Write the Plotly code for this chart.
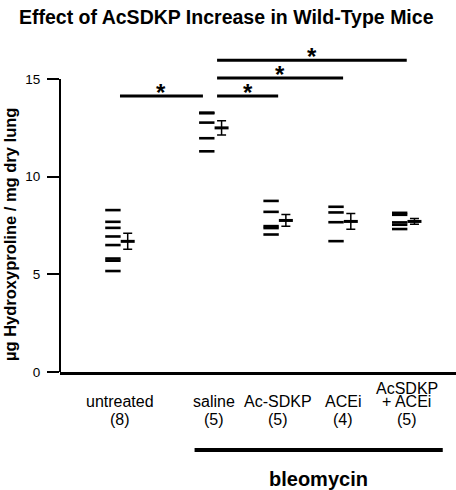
import plotly.graph_objects as go

# ---- data ----
groups = ["untreated", "saline", "Ac-SDKP", "ACEi", "AcSDKP<br>+ ACEi"]
counts = ["(8)", "(5)", "(5)", "(4)", "(5)"]
untreated_vals = [8.29, 7.69, 7.38, 6.94, 6.50, 5.81, 5.70, 5.17]
saline_vals = [13.28, 13.25, 12.77, 11.97, 11.30]
acsdkp_vals = [8.76, 8.20, 7.47, 7.37, 7.04]
acei_vals = [8.46, 8.17, 7.67, 6.70]
combo_vals = [8.15, 8.05, 7.66, 7.54, 7.32]
means = [6.69, 12.50, 7.76, 7.71, 7.71]
sems = [0.41, 0.37, 0.30, 0.40, 0.15]
yticks = [0, 5, 10, 15]
# significance comparisons (group index a, group index b, bar height)
comparisons = [(0, 1, 14.13), (1, 2, 14.13), (1, 3, 15.05), (1, 4, 15.96)]

all_vals = [untreated_vals, saline_vals, acsdkp_vals, acei_vals, combo_vals]

# ---- layout helpers ----
pos = [0, 1.46, 2.46, 3.47, 4.46]
XMIN, XMAX = -0.933, 5.226
W, H = 456, 490
ML, MR, MT, MB = 60, 0, 40, 118
PH = H - MT - MB
FONT = "Liberation Sans, Arial, sans-serif"


def xpaper(x):
    return (x - XMIN) / (XMAX - XMIN)


def ypaper_px(py):
    # pixel row in the page -> paper coordinate
    return (H - MB - py) / PH


fig = go.Figure()

for i, vals in enumerate(all_vals):
    fig.add_trace(go.Scatter(
        x=[pos[i] - 0.11] * len(vals), y=vals, mode="markers",
        marker=dict(symbol="line-ew", size=11, line=dict(width=2.6, color="black")),
        showlegend=False, hoverinfo="y"))

fig.add_trace(go.Scatter(
    x=[p + 0.12 for p in pos], y=means, mode="markers",
    marker=dict(symbol="line-ew", size=10, line=dict(width=3, color="black")),
    error_y=dict(type="data", array=sems, visible=True, color="black",
                 thickness=1.5, width=4.5),
    showlegend=False, hoverinfo="y"))

shapes = []
# y axis line from 0 to 15
shapes.append(dict(type="line", xref="paper", yref="y", x0=0, x1=0, y0=0, y1=15,
                   line=dict(color="black", width=2)))
# significance bars
for a, b, h in comparisons:
    x0 = pos[a] + (0.05 if a > 0 else 0)
    x1 = pos[b] - (0.17 if b == 1 else 0)
    shapes.append(dict(type="line", xref="x", yref="y", x0=x0, x1=x1, y0=h, y1=h,
                       line=dict(color="black", width=3)))
# bleomycin bar
shapes.append(dict(type="line", xref="paper", yref="paper",
                   x0=xpaper(pos[1] - 0.30), x1=xpaper(pos[4] + 0.56),
                   y0=ypaper_px(450), y1=ypaper_px(450),
                   line=dict(color="black", width=4)))

annotations = []
for a, b, h in comparisons:
    x0 = pos[a] + (0.05 if a > 0 else 0)
    x1 = pos[b] - (0.17 if b == 1 else 0)
    annotations.append(dict(x=(x0 + x1) / 2, y=h, xref="x", yref="y", text="<b>*</b>",
                            showarrow=False, yanchor="middle", yshift=4,
                            font=dict(family=FONT, size=24, color="black")))

LBL = 16
for i, g in enumerate(groups):
    if "<br>" in g:
        l1, l2 = g.split("<br>")
        annotations.append(dict(x=pos[i], y=ypaper_px(388), xref="x", yref="paper", text=l1,
                                showarrow=False, yanchor="middle",
                                font=dict(family=FONT, size=LBL, color="black")))
        annotations.append(dict(x=pos[i], y=ypaper_px(401.5), xref="x", yref="paper", text=l2,
                                showarrow=False, yanchor="middle",
                                font=dict(family=FONT, size=LBL, color="black")))
    else:
        annotations.append(dict(x=pos[i], y=ypaper_px(401), xref="x", yref="paper", text=g,
                                showarrow=False, yanchor="middle",
                                font=dict(family=FONT, size=LBL, color="black")))
    annotations.append(dict(x=pos[i], y=ypaper_px(419), xref="x", yref="paper", text=counts[i],
                            showarrow=False, yanchor="middle",
                            font=dict(family=FONT, size=LBL, color="black")))

annotations.append(dict(x=xpaper((pos[1] - 0.30 + pos[4] + 0.56) / 2), y=ypaper_px(479),
                        xref="paper", yref="paper", text="<b>bleomycin</b>",
                        showarrow=False, yanchor="middle",
                        font=dict(family=FONT, size=20, color="black")))
annotations.append(dict(x=(10 - ML) / (W - ML - MR), y=ypaper_px(235), xref="paper", yref="paper",
                        text="<b>µg Hydroxyproline / mg dry lung</b>", textangle=-90,
                        showarrow=False, xanchor="center", yanchor="middle",
                        font=dict(family=FONT, size=16.5, color="black")))
annotations.append(dict(x=(226 - ML) / (W - ML - MR), y=ypaper_px(17), xref="paper", yref="paper",
                        text="<b>Effect of AcSDKP Increase in Wild-Type Mice</b>",
                        showarrow=False, xanchor="center", yanchor="middle",
                        font=dict(family=FONT, size=19.5, color="black")))

fig.update_layout(
    width=W, height=H, autosize=False,
    margin=dict(l=ML, r=MR, t=MT, b=MB),
    paper_bgcolor="white", plot_bgcolor="white",
    shapes=shapes, annotations=annotations,
    xaxis=dict(range=[XMIN, XMAX], showgrid=False, zeroline=False, showticklabels=False,
               ticks="", showline=True, linecolor="black", linewidth=2.5),
    yaxis=dict(range=[0, 17], tickvals=yticks, ticktext=[str(t) for t in yticks],
               showgrid=False, zeroline=False, showline=False, ticks="outside",
               ticklen=12, tickwidth=2, tickcolor="black", ticklabelstandoff=4,
               tickfont=dict(family=FONT, size=13.5, color="black")),
    font=dict(family=FONT, color="black"),
)

fig.write_html("out.html", config={"displayModeBar": False},
               post_script="document.body.style.margin='0';document.body.style.overflow='hidden';")
